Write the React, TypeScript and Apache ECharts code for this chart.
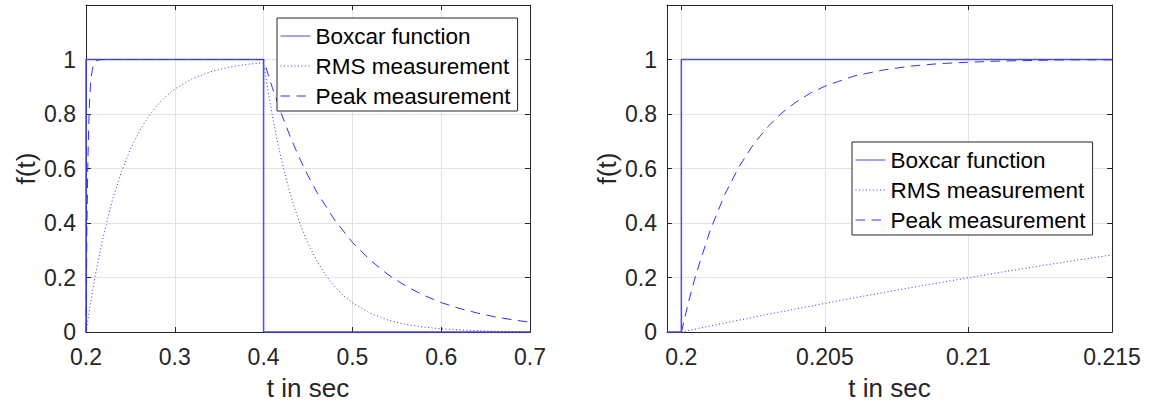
import React, { useEffect, useRef } from "react";
import * as echarts from "echarts";

const names = ["Boxcar function", "RMS measurement", "Peak measurement"];

// Left subplot (0.2 .. 0.7 s)
const leftXTicks = [0.2, 0.3, 0.4, 0.5, 0.6, 0.7];
const yTicks = [0, 0.2, 0.4, 0.6, 0.8, 1];

const leftBoxcarT = [0.2, 0.2, 0.4, 0.4, 0.7];
const leftBoxcarV = [0, 1, 1, 0, 0];

const leftRmsT = [0.2, 0.205, 0.21, 0.215, 0.22, 0.23, 0.24, 0.25, 0.26, 0.27, 0.28, 0.29, 0.3, 0.32, 0.34, 0.36, 0.38, 0.4,
  0.405, 0.41, 0.415, 0.42, 0.425, 0.43, 0.435, 0.44, 0.45, 0.46, 0.47, 0.48, 0.49, 0.5, 0.52, 0.54, 0.56, 0.58, 0.6, 0.63, 0.66, 0.7];
const leftRmsV = [0, 0.105, 0.199, 0.283, 0.359, 0.487, 0.589, 0.671, 0.736, 0.789, 0.831, 0.865, 0.892, 0.93, 0.955, 0.971, 0.982, 0.988,
  0.884, 0.791, 0.708, 0.634, 0.567, 0.507, 0.454, 0.406, 0.325, 0.261, 0.208, 0.167, 0.133, 0.107, 0.069, 0.044, 0.028, 0.018, 0.012, 0.006, 0.003, 0.001];

const leftPeakT = [0.2, 0.201, 0.202, 0.203, 0.204, 0.205, 0.206, 0.207, 0.208, 0.21, 0.212, 0.215, 0.22, 0.4,
  0.405, 0.41, 0.42, 0.43, 0.44, 0.45, 0.46, 0.48, 0.5, 0.52, 0.54, 0.56, 0.58, 0.6, 0.62, 0.64, 0.66, 0.68, 0.7];
const leftPeakV = [0, 0.372, 0.605, 0.752, 0.844, 0.902, 0.939, 0.961, 0.976, 0.99, 0.996, 0.999, 1, 1,
  0.946, 0.895, 0.801, 0.717, 0.641, 0.574, 0.513, 0.411, 0.329, 0.264, 0.211, 0.169, 0.135, 0.108, 0.087, 0.07, 0.056, 0.045, 0.036];

// Right subplot (zoom 0.1995 .. 0.215 s)
const rightXTicks = [0.2, 0.205, 0.21, 0.215];

const rightBoxcarT = [0.1995, 0.2, 0.2, 0.215];
const rightBoxcarV = [0, 0, 1, 1];

const rightRmsT = [0.2, 0.201, 0.202, 0.203, 0.204, 0.205, 0.206, 0.207, 0.208, 0.209, 0.21, 0.211, 0.212, 0.213, 0.214, 0.215];
const rightRmsV = [0, 0.022, 0.0435, 0.0645, 0.085, 0.105, 0.125, 0.144, 0.163, 0.181, 0.199, 0.217, 0.234, 0.251, 0.267, 0.283];

const rightPeakT = [0.2, 0.20025, 0.2005, 0.201, 0.2015, 0.202, 0.2025, 0.203, 0.2035, 0.204, 0.2045, 0.205, 0.206, 0.207, 0.208, 0.209,
  0.21, 0.211, 0.212, 0.213, 0.214, 0.215];
const rightPeakV = [0, 0.11, 0.208, 0.372, 0.502, 0.605, 0.687, 0.752, 0.804, 0.844, 0.877, 0.902, 0.939, 0.961, 0.976, 0.985,
  0.99, 0.994, 0.996, 0.998, 0.999, 0.999];

const FONT = "'Liberation Sans', Arial, Helvetica, sans-serif";
const AX = "#262626";
const GRIDC = "#e3e3e3";
const BLUE = "#3030ff";

const zip = (t: number[], v: number[]) => t.map((x, i) => [x, v[i]]);
const fmt = (v: number) => String(+Number(v).toFixed(4));

export default function App() {
  const ref = useRef<HTMLDivElement>(null);
  useEffect(() => {
    if (!ref.current) return;
    const chart = echarts.init(ref.current, undefined, { renderer: "svg" });

    const grids = [
      { left: 86, top: 5, width: 444, height: 327 },
      { left: 667, top: 5, width: 445, height: 327 },
    ];

    const mainX = (gi: number, min: number, max: number, ticks: number[]) => ({
      type: "value",
      gridIndex: gi,
      min,
      max,
      position: "bottom",
      name: "t in sec",
      nameLocation: "middle",
      nameGap: 43,
      nameTextStyle: { fontFamily: FONT, fontSize: 26, color: AX },
      axisLine: { show: true, onZero: false, lineStyle: { color: AX, width: 1 } },
      axisTick: { show: true, inside: true, length: 5, customValues: ticks, lineStyle: { color: AX } },
      axisLabel: { customValues: ticks, formatter: fmt, margin: 13, fontFamily: FONT, fontSize: 23, color: AX },
      splitLine: { show: true, lineStyle: { color: GRIDC, width: 1 } },
    });
    const topX = (gi: number, min: number, max: number, ticks: number[]) => ({
      type: "value",
      gridIndex: gi,
      min,
      max,
      position: "top",
      axisLine: { show: true, onZero: false, lineStyle: { color: AX, width: 1 } },
      axisTick: { show: true, inside: true, length: 5, customValues: ticks, lineStyle: { color: AX } },
      axisLabel: { show: false },
      splitLine: { show: false },
    });
    const mainY = (gi: number) => ({
      type: "value",
      gridIndex: gi,
      min: 0,
      max: 1.2,
      position: "left",
      name: "f(t)",
      nameLocation: "middle",
      nameRotate: 90,
      nameGap: 47,
      nameTextStyle: { fontFamily: FONT, fontSize: 26, color: AX },
      axisLine: { show: true, onZero: false, lineStyle: { color: AX, width: 1 } },
      axisTick: { show: true, inside: true, length: 5, customValues: yTicks, lineStyle: { color: AX } },
      axisLabel: { customValues: yTicks, formatter: fmt, margin: 10, fontFamily: FONT, fontSize: 23, color: AX },
      splitLine: { show: true, lineStyle: { color: GRIDC, width: 1 } },
    });
    const rightY = (gi: number) => ({
      type: "value",
      gridIndex: gi,
      min: 0,
      max: 1.2,
      position: "right",
      axisLine: { show: true, onZero: false, lineStyle: { color: AX, width: 1 } },
      axisTick: { show: true, inside: true, length: 5, customValues: yTicks, lineStyle: { color: AX } },
      axisLabel: { show: false },
      splitLine: { show: false },
    });

    const line = (name: string, data: number[][], xi: number, yi: number, type: any, width: number, color: string) => ({
      type: "line",
      name,
      data,
      xAxisIndex: xi,
      yAxisIndex: yi,
      showSymbol: false,
      symbol: "none",
      smooth: false,
      clip: true,
      z: 3,
      lineStyle: { color, width, type },
      itemStyle: { color },
    });

    const legend = (left: number, top: number) => ({
      left,
      top,
      orient: "vertical",
      data: names,
      selectedMode: false,
      backgroundColor: "#ffffff",
      borderColor: AX,
      borderWidth: 1,
      borderRadius: 0,
      padding: [6, 7, 3, 3],
      itemGap: 6,
      itemWidth: 30,
      itemHeight: 14,
      itemStyle: { opacity: 0, color: "rgba(0,0,0,0)", borderWidth: 0 },
      lineStyle: { width: 1 },
      textStyle: { fontFamily: FONT, fontSize: 22.5, color: "#000", lineHeight: 24 },
    });

    const dotted = [1, 2.5];
    const dashed = [9.5, 6.5];
    const BOX = "#4848ff";

    chart.setOption({
      animation: false,
      backgroundColor: "#ffffff",
      grid: grids,
      xAxis: [
        mainX(0, 0.2, 0.7, leftXTicks),
        mainX(1, 0.1995, 0.215, rightXTicks),
        topX(0, 0.2, 0.7, leftXTicks),
        topX(1, 0.1995, 0.215, rightXTicks),
      ],
      yAxis: [mainY(0), mainY(1), rightY(0), rightY(1)],
      legend: [legend(277, 18), legend(852, 142)],
      series: [
        line(names[0], zip(leftBoxcarT, leftBoxcarV), 0, 0, "solid", 1.5, BOX),
        line(names[1], zip(leftRmsT, leftRmsV), 0, 0, dotted, 1, BLUE),
        line(names[2], zip(leftPeakT, leftPeakV), 0, 0, dashed, 1, BLUE),
        line(names[0], zip(rightBoxcarT, rightBoxcarV), 1, 1, "solid", 1.5, BOX),
        line(names[1], zip(rightRmsT, rightRmsV), 1, 1, dotted, 1, BLUE),
        line(names[2], zip(rightPeakT, rightPeakV), 1, 1, dashed, 1, BLUE),
      ],
    });
    return () => chart.dispose();
  }, []);

  return (
    <div
      ref={ref}
      style={{ position: "fixed", left: 0, top: 0, width: 1150, height: 413, background: "#fff" }}
    />
  );
}
